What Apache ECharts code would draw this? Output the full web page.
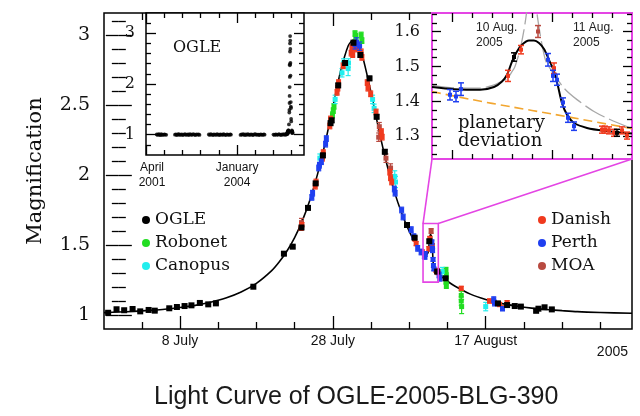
<!DOCTYPE html>
<html><head><meta charset="utf-8">
<script src="https://cdn.jsdelivr.net/npm/echarts@6/dist/echarts.min.js"></script>
<style>html,body{margin:0;padding:0;background:#fff}#c{width:640px;height:416px}</style>
</head><body><div id="c"></div>
<script>
// ---------- DATA (x = day of July 2005, y = magnification) ----------
const ogleDay = [-1.4,-0.3,0.7,1.8,2.8,3.9,4.7,6.6,7.6,8.6,9.5,10.6,11.7,12.7,17.6,21.6,22.75,23.9,24.75,25.75,26.7,27.7,27.85,28.7,29.6,30.7,31.6,32.8,33.73,34.8,37.7,38.7,40.62,41.65,42.75,49.6,50.8,51.8,52.6,54.6,54.9,55.7,56.65];
const ogleMag = [1.016,1.041,1.034,1.043,1.026,1.036,1.031,1.048,1.057,1.064,1.069,1.086,1.076,1.083,1.202,1.438,1.488,1.625,1.765,1.94,2.14,2.37,2.39,2.64,2.80,2.945,2.857,2.69,2.416,2.166,1.643,1.552,1.527,1.31,1.262,1.083,1.071,1.064,1.06,1.03,1.045,1.055,1.04];
const ogleErr = [0.006,0.006,0.006,0.006,0.006,0.006,0.006,0.006,0.006,0.006,0.006,0.006,0.006,0.006,0.008,0.01,0.01,0.012,0.012,0.012,0.015,0.015,0.015,0.015,0.015,0.015,0.015,0.015,0.015,0.015,0.012,0.012,0.012,0.01,0.01,0.008,0.008,0.008,0.008,0.008,0.008,0.008,0.008];

const danishDay = [23.85,23.95,25.7,25.8,26.65,26.75,27.6,27.7,28.55,28.65,28.75,29.35,30.4,30.5,30.6,31.1,31.7,31.8,32.5,32.6,32.95,33.65,34.35,34.45,35.45,35.55,35.7,38.7,38.9,39.7,40.56,40.69,41.02,41.5,41.53,41.57,41.62,41.7,41.75,44.8,48.5,49.8,50.2,50.8];
const danishMag = [1.62,1.645,1.92,1.95,2.12,2.16,2.35,2.40,2.59,2.62,2.66,2.78,2.87,2.91,2.86,2.90,2.88,2.84,2.66,2.62,2.58,2.45,2.31,2.27,2.02,1.98,1.95,1.545,1.51,1.45,1.473,1.548,1.495,1.319,1.319,1.317,1.31,1.317,1.302,1.19,1.10,1.075,1.05,1.088];
const danishErr = [0.015,0.015,0.02,0.02,0.02,0.02,0.02,0.02,0.02,0.02,0.02,0.02,0.02,0.02,0.02,0.02,0.02,0.02,0.02,0.02,0.02,0.02,0.02,0.02,0.02,0.02,0.02,0.015,0.015,0.015,0.016,0.012,0.015,0.01,0.01,0.01,0.01,0.01,0.01,0.015,0.015,0.015,0.015,0.015];

const perthDay = [25.25,25.35,26.15,26.25,26.5,27.05,27.15,30.9,31.1,31.5,36.05,36.15,37.0,37.2,38.25,38.6,39.1,39.55,39.98,40.04,40.09,40.96,41.01,41.05,41.11,41.16,41.22,41.9,42.0,49.05,49.15,50.2];
const perthMag = [1.84,1.87,2.05,2.07,2.095,2.22,2.26,2.93,2.95,2.92,1.90,1.87,1.75,1.70,1.61,1.56,1.476,1.45,1.419,1.414,1.435,1.519,1.473,1.462,1.397,1.353,1.329,1.286,1.262,1.11,1.085,1.045];
const perthErr = [0.02,0.02,0.02,0.02,0.02,0.02,0.02,0.03,0.03,0.03,0.02,0.02,0.02,0.02,0.02,0.02,0.02,0.02,0.015,0.015,0.018,0.018,0.016,0.016,0.013,0.013,0.012,0.02,0.02,0.02,0.02,0.015];

const robonetDay = [27.95,28.06,28.15,30.9,31.0,31.7,31.8,42.8,42.85,42.8,42.85,44.8,44.8,44.85];
const robonetMag = [2.43,2.46,2.49,3.01,2.99,3.00,2.96,1.32,1.28,1.24,1.21,1.14,1.10,1.06];
const robonetErr = [0.02,0.02,0.02,0.02,0.02,0.02,0.02,0.02,0.02,0.02,0.02,0.03,0.03,0.05];

const canopusDay = [26.3,28.3,29.2,29.4,30.0,30.05,33.2,33.4,36.1,36.2,42.3,48.0];
const canopusMag = [2.12,2.54,2.73,2.80,2.76,2.80,2.54,2.476,1.99,1.95,1.31,1.06];
const canopusErr = [0.03,0.03,0.03,0.03,0.05,0.03,0.03,0.03,0.04,0.04,0.03,0.03];

const moaDay = [23.9,34.0,34.08,34.95,35.55,40.86];
const moaMag = [1.66,2.27,2.345,2.12,2.05,1.60];
const moaErr = [0.03,0.03,0.03,0.03,0.03,0.017];

// model light curve
const curveBeforeDay = [-1.94,0,2,4,6,8,10,12,14,16,18,20,21,22,23,24,25,26,27,28,29,30,30.7,31.5,32,33,34,35,36,37,38,39,39.5];
const curveBeforeMag = [1.017,1.021,1.026,1.033,1.041,1.053,1.069,1.091,1.121,1.164,1.226,1.317,1.380,1.457,1.553,1.672,1.821,2.006,2.229,2.484,2.737,2.921,2.964,2.908,2.824,2.588,2.328,2.091,1.890,1.728,1.597,1.493,1.455];
const planetDay = [39.8,40.02,40.28,40.42,40.5,40.55,40.6,40.65,40.7,40.77,40.82,40.87,40.92,40.97,41.02,41.06,41.1,41.15,41.22,41.35,41.52,41.8];
const planetMag = [1.441,1.435,1.433,1.441,1.457,1.476,1.514,1.543,1.562,1.574,1.574,1.567,1.550,1.519,1.486,1.443,1.395,1.362,1.338,1.324,1.316,1.308];
const curveAfterDay = [42,42.5,43,44,46,48,50,52,54,56,58,60,63,67.14];
const curveAfterMag = [1.29,1.262,1.241,1.205,1.149,1.111,1.083,1.064,1.049,1.039,1.031,1.024,1.018,1.012];
// grey model and single-lens (no planet) model in the zoom
const greyDay = [39.8,40.02,40.28,40.42,40.5,40.55,40.6,40.63,40.68,40.72,40.745,40.76,40.84,40.85,40.88,40.91,40.94,41.0,41.12,41.25,41.42,41.58,41.8];
const greyMag = [1.446,1.439,1.438,1.447,1.458,1.465,1.485,1.50,1.548,1.605,1.653,1.70,1.70,1.653,1.595,1.548,1.514,1.486,1.438,1.405,1.371,1.348,1.322];
const noPlanetDay = [39.8,40.2,40.6,41.0,41.4,41.8];
const noPlanetMag = [1.428,1.405,1.384,1.364,1.343,1.322];

// OGLE long-term baseline (HJD-2450000)
const seasonHJD = [2118,2127,2139,2146,2158,2166,2179,2188,2201,2209,2222,
 2318,2329,2337,2350,2361,2369,2382,2394,2403,2416,2428,2437,2449,2462,2470,2483,2496,2505,2518,2530,2541,2553,2566,2578,2587,
 2690,2702,2711,2724,2737,2745,2758,2771,2780,2793,2806,2815,2828,2841,2850,2863,2876,2889,2901,2912,2925,2932,
 3038,3049,3061,3070,3083,3096,3105,3118,3131,3140,3153,3166,3175,3188,3201,3210,3223,3236,3245,3258,3271,3280,3293,3302,
 3400,3411,3423,3434,3446,3459,3470,3482,3494,3505,3517,3528,3540,3548];
const seasonMag = [1.005,0.995,1.01,1.0,0.99,1.012,1.0,0.995,1.008,1.003,0.997,
 1.0,1.008,0.993,1.004,1.012,0.996,1.0,1.007,0.992,1.003,1.01,0.998,1.0,1.006,0.994,1.009,1.0,0.997,1.011,1.002,0.993,1.005,1.0,1.008,0.996,
 1.004,0.995,1.01,1.0,0.993,1.007,1.002,0.996,1.012,1.0,0.994,1.006,1.001,0.997,1.009,1.0,0.992,1.005,1.003,0.996,1.008,1.0,
 0.996,1.006,1.0,1.01,0.993,1.004,0.998,1.009,1.001,0.995,1.007,1.0,0.992,1.005,1.011,0.997,1.002,1.0,0.994,1.008,1.003,0.996,1.006,1.0,
 1.002,0.995,1.008,1.0,0.997,1.01,1.003,0.994,1.006,1.0,1.009,0.998,1.004,1.01];
const HJD_OFFSET = 3552; // day-of-July 2005 -> HJD-2450000

// axis ticks / labels
const mainXMajor = [8, 28, 48];
const mainXLabels = ['8 July', '28 July', '17 August'];
const mainXMinor = [3, 13, 18, 23, 33, 38, 43, 53, 58, 63];
const mainYMajor = [1, 1.5, 2, 2.5, 3];
const mainYMinor = [1.1,1.2,1.3,1.4,1.6,1.7,1.8,1.9,2.1,2.2,2.3,2.4,2.6,2.7,2.8,2.9,3.1];
const in1XMajor = [2000, 3000];
const in1XLabels = ['{s|April}\n{s|2001}', 'January\n2004'];
const in1XMinor = [2200, 2400, 2600, 2800, 3200, 3400, 3600];
const in1YMajor = [1, 2, 3];
const in1YMinor = [0.8,1.2,1.4,1.6,1.8,2.2,2.4,2.6,2.8,3.2];
const in2XMajor = [40, 41];
const in2XMinor = [40.2, 40.4, 40.6, 40.8, 41.2, 41.4, 41.6];
const in2YMajor = [1.3, 1.4, 1.5, 1.6];
const in2YMinor = [1.25,1.275,1.325,1.35,1.375,1.425,1.45,1.475,1.525,1.55,1.575,1.625,1.65];

// axis ranges
const mainXMin = -1.94, mainXMax = 67.14, mainYMin = 0.9, mainYMax = 3.157;
const in1XMin = 2000, in1XMax = 3735, in1YMin = 0.6, in1YMax = 3.4;
const in2XMin = 39.8, in2XMax = 41.8, in2YMin = 1.235, in2YMax = 1.653;

// ---------- CHART ----------
const SERIF = 'DejaVu Serif', SANS = 'Liberation Sans';
const MAGENTA = '#e445e4';
const COL = { OGLE:'#000000', Robonet:'#22dd22', Canopus:'#22eeee', Danish:'#f03a1e', Perth:'#1f3ff0', MOA:'#b84a40' };

function zip3(a, b, c) { return a.map((v, i) => [v, b[i], c[i]]); }
function zip2(a, b) { return a.map((v, i) => [v, b[i]]); }

function axis(gi, pos, min, max, ticks, len, z, extra) {
  const o = {
    type: 'value', gridIndex: gi, position: pos, min: min, max: max, z: z,
    axisLine: { show: false }, splitLine: { show: false },
    axisTick: { show: true, inside: true, length: len, customValues: ticks, lineStyle: { color: '#000', width: 1.3 } },
    axisLabel: { show: false }
  };
  return Object.assign(o, extra || {});
}

function errRender(mark, cap, lw) {
  return function (params, api) {
    const x = api.value(0), y = api.value(1), e = api.value(2);
    const c = api.coord([x, y]), hi = api.coord([x, y + e]), lo = api.coord([x, y - e]);
    const col = api.visual('color');
    const st = { stroke: col, lineWidth: lw };
    return { type: 'group', children: [
      { type: 'line', shape: { x1: c[0], y1: hi[1], x2: c[0], y2: lo[1] }, style: st },
      { type: 'line', shape: { x1: c[0] - cap, y1: hi[1], x2: c[0] + cap, y2: hi[1] }, style: st },
      { type: 'line', shape: { x1: c[0] - cap, y1: lo[1], x2: c[0] + cap, y2: lo[1] }, style: st },
      { type: 'rect', shape: { x: c[0] - mark / 2, y: c[1] - mark / 2, width: mark, height: mark }, style: { fill: col } }
    ]};
  };
}

const sets = [
  ['Robonet', robonetDay, robonetMag, robonetErr],
  ['Canopus', canopusDay, canopusMag, canopusErr],
  ['MOA', moaDay, moaMag, moaErr],
  ['Danish', danishDay, danishMag, danishErr],
  ['Perth', perthDay, perthMag, perthErr],
  ['OGLE', ogleDay, ogleMag, ogleErr]
];

const series = [];
// main model curve
series.push({ type: 'line', xAxisIndex: 0, yAxisIndex: 0, z: 2, symbol: 'none', silent: true,
  smooth: 0.3, lineStyle: { color: '#000', width: 1.6 },
  data: zip2(curveBeforeDay, curveBeforeMag).concat(zip2(planetDay, planetMag), zip2(curveAfterDay, curveAfterMag)) });
sets.forEach(s => series.push({ type: 'custom', name: s[0], xAxisIndex: 0, yAxisIndex: 0, z: 3,
  itemStyle: { color: COL[s[0]] }, renderItem: errRender(s[0] === 'OGLE' ? 6 : 5, 2.5, 1.2),
  encode: { x: 0, y: 1 }, data: zip3(s[1], s[2], s[3]) }));
// inset 1 (OGLE long-term)
series.push({ type: 'scatter', xAxisIndex: 4, yAxisIndex: 4, z: 11, symbol: 'circle', symbolSize: 3.8, silent: true,
  itemStyle: { color: '#000' },
  data: zip2(seasonHJD, seasonMag).concat(ogleDay.map((d, i) => [d + HJD_OFFSET, ogleMag[i]])) });
// inset 2 (zoom)
series.push({ type: 'line', xAxisIndex: 8, yAxisIndex: 8, z: 11, symbol: 'none', silent: true, smooth: 0.3,
  lineStyle: { color: '#f2a630', width: 1.6, type: [9, 5] }, data: zip2(noPlanetDay, noPlanetMag) });
series.push({ type: 'line', xAxisIndex: 8, yAxisIndex: 8, z: 11, symbol: 'none', silent: true, smooth: 0.3, clip: true,
  lineStyle: { color: '#a8a8a8', width: 1.3, type: [22, 5] }, data: zip2(greyDay, greyMag) });
series.push({ type: 'line', xAxisIndex: 8, yAxisIndex: 8, z: 12, symbol: 'none', silent: true, smooth: 0.3,
  lineStyle: { color: '#000', width: 2 }, data: zip2(planetDay, planetMag) });
sets.forEach(s => series.push({ type: 'custom', name: s[0], xAxisIndex: 8, yAxisIndex: 8, z: 13, clip: true,
  itemStyle: { color: COL[s[0]] }, renderItem: errRender(4, 3, 1.5),
  encode: { x: 0, y: 1 }, data: zip3(s[1], s[2], s[3]) }));

const labSerif = (size) => ({ fontFamily: SERIF, fontSize: size, color: '#111' });

const option = {
  animation: false,
  backgroundColor: '#fff',
  title: { text: 'Light Curve of OGLE-2005-BLG-390', left: 149, top: 380,
    textStyle: { fontFamily: SANS, fontSize: 25, fontWeight: 'normal', color: '#1a1a1a' } },
  legend: [
    { data: ['OGLE', 'Robonet', 'Canopus'], orient: 'vertical', left: 137, top: 206, icon: 'circle',
      itemWidth: 8, itemHeight: 8, itemGap: 5, selectedMode: false,
      textStyle: { fontFamily: SERIF, fontSize: 17, color: '#111', lineHeight: 18 } },
    { data: ['Danish', 'Perth', 'MOA'], orient: 'vertical', left: 533, top: 206, icon: 'circle',
      itemWidth: 8, itemHeight: 8, itemGap: 5, selectedMode: false,
      textStyle: { fontFamily: SERIF, fontSize: 17, color: '#111', lineHeight: 18 } }
  ],
  grid: [
    { left: 104, top: 13, width: 528, height: 316, show: true, borderColor: '#000', borderWidth: 1.5, backgroundColor: 'transparent', z: 0 },
    { left: 146, top: 13, width: 158, height: 142, show: true, borderColor: '#000', borderWidth: 1.5, backgroundColor: '#fff', z: 10 },
    { left: 432, top: 13, width: 200, height: 146, show: true, borderColor: MAGENTA, borderWidth: 2, backgroundColor: '#fff', z: 10 }
  ],
  xAxis: [
    axis(0, 'bottom', mainXMin, mainXMax, mainXMajor, 13, 1, {
      axisLabel: { show: true, customValues: mainXMajor, margin: 5, fontFamily: SANS, fontSize: 14, color: '#111',
        formatter: v => mainXLabels[mainXMajor.indexOf(v)] },
      name: '2005', nameLocation: 'end', nameGap: -4,
      nameTextStyle: { fontFamily: SANS, fontSize: 14, color: '#111', align: 'right', verticalAlign: 'top', padding: [16, 0, 0, 0] } }),
    axis(0, 'bottom', mainXMin, mainXMax, mainXMinor, 7, 1),
    axis(0, 'top', mainXMin, mainXMax, mainXMajor, 13, 1),
    axis(0, 'top', mainXMin, mainXMax, mainXMinor, 7, 1),
    axis(1, 'bottom', in1XMin, in1XMax, in1XMajor, 10, 12, {
      axisLabel: { show: true, customValues: in1XMajor, margin: 5, fontFamily: SANS, fontSize: 12, color: '#111', lineHeight: 15,
        rich: { s: { fontFamily: SANS, fontSize: 12, color: '#111', lineHeight: 15, padding: [0, 0, 0, 12] } },
        formatter: v => in1XLabels[in1XMajor.indexOf(v)] } }),
    axis(1, 'bottom', in1XMin, in1XMax, in1XMinor, 5, 12),
    axis(1, 'top', in1XMin, in1XMax, in1XMajor, 10, 12),
    axis(1, 'top', in1XMin, in1XMax, in1XMinor, 5, 12),
    axis(2, 'bottom', in2XMin, in2XMax, in2XMajor, 9, 12),
    axis(2, 'bottom', in2XMin, in2XMax, in2XMinor, 5, 12),
    axis(2, 'top', in2XMin, in2XMax, in2XMajor, 9, 12),
    axis(2, 'top', in2XMin, in2XMax, in2XMinor, 5, 12)
  ],
  yAxis: [
    axis(0, 'left', mainYMin, mainYMax, mainYMajor, 13, 1, {
      axisLabel: Object.assign({ show: true, customValues: mainYMajor, margin: 14 }, labSerif(19)),
      name: 'Magnification', nameLocation: 'middle', nameRotate: 90, nameGap: 58,
      nameTextStyle: labSerif(21) }),
    axis(0, 'left', mainYMin, mainYMax, mainYMinor, 7, 1),
    axis(0, 'right', mainYMin, mainYMax, mainYMajor, 13, 1),
    axis(0, 'right', mainYMin, mainYMax, mainYMinor, 7, 1),
    axis(1, 'left', in1YMin, in1YMax, in1YMajor, 10, 12, {
      axisLabel: Object.assign({ show: true, customValues: in1YMajor, margin: 11 }, labSerif(16)) }),
    axis(1, 'left', in1YMin, in1YMax, in1YMinor, 5, 12),
    axis(1, 'right', in1YMin, in1YMax, in1YMajor, 10, 12),
    axis(1, 'right', in1YMin, in1YMax, in1YMinor, 5, 12),
    axis(2, 'left', in2YMin, in2YMax, in2YMajor, 9, 12, {
      axisLabel: Object.assign({ show: true, customValues: in2YMajor, margin: 12 }, labSerif(16)) }),
    axis(2, 'left', in2YMin, in2YMax, in2YMinor, 5, 12),
    axis(2, 'right', in2YMin, in2YMax, in2YMajor, 9, 12),
    axis(2, 'right', in2YMin, in2YMax, in2YMinor, 5, 12)
  ],
  series: series
};

const chart = echarts.init(document.getElementById('c'), null, { renderer: 'canvas', width: 640, height: 416 });
chart.setOption(option);

// zoom box and connector lines, positioned through the axes
const mainF = { xAxisIndex: 0, yAxisIndex: 0 }, zoomF = { xAxisIndex: 8, yAxisIndex: 8 };
const bTL = chart.convertToPixel(mainF, [in2XMin, in2YMax]);
const bBR = chart.convertToPixel(mainF, [in2XMax, in2YMin]);
const zBL = chart.convertToPixel(zoomF, [in2XMin, in2YMin]);
const zBR = chart.convertToPixel(zoomF, [in2XMax, in2YMin]);
const ln = { stroke: MAGENTA, lineWidth: 1.6 };
chart.setOption({ graphic: [
  { type: 'rect', z: 6, shape: { x: bTL[0], y: bTL[1], width: bBR[0] - bTL[0], height: bBR[1] - bTL[1] }, style: { fill: 'none', stroke: MAGENTA, lineWidth: 1.6 } },
  { type: 'line', z: 6, shape: { x1: bTL[0], y1: bTL[1], x2: zBL[0], y2: zBL[1] }, style: ln },
  { type: 'line', z: 6, shape: { x1: bBR[0], y1: bTL[1], x2: zBR[0], y2: zBR[1] }, style: ln },
  { type: 'text', z: 20, left: 173, top: 40, style: { text: 'OGLE', font: '16px "DejaVu Serif"', fill: '#111' } },
  { type: 'text', z: 20, left: 476, top: 20, style: { text: '10 Aug.\n2005', font: '12px "Liberation Sans"', fill: '#222', align: 'center', lineHeight: 15, width: 42 } },
  { type: 'text', z: 20, left: 573, top: 20, style: { text: '11 Aug.\n2005', font: '12px "Liberation Sans"', fill: '#222', align: 'center', lineHeight: 15, width: 42 } },
  { type: 'text', z: 20, left: 458, top: 114, style: { text: 'planetary\ndeviation', font: '18px "DejaVu Serif"', fill: '#111', lineHeight: 18 } }
]});
</script></body></html>
